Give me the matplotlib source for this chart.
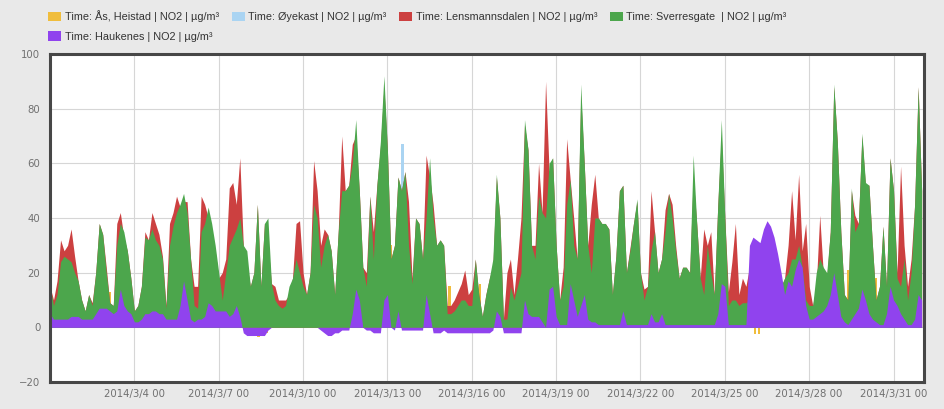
import numpy as np
import pandas as pd
import matplotlib
matplotlib.use("Agg")
import matplotlib.pyplot as plt
import matplotlib.dates as mdates
from matplotlib.patches import Patch
from matplotlib.ticker import FuncFormatter

# 3-hourly NO2 readings (ug/m3), 2014-03-01 00:00 .. 2014-04-01 00:00
times = pd.date_range("2014-03-01 00:00", "2014-04-01 00:00", freq="3h")

sverresgate = [
    15, 8, 12, 24, 26, 25, 24, 20,   # 3/1
    17, 10, 6, 12, 8, 20, 38, 34,    # 3/2
    20, 9, 8, 30, 38, 35, 28, 18,    # 3/3
    6, 8, 15, 33, 32, 36, 32, 30,    # 3/4
    25, 7, 30, 37, 42, 45, 49, 42,   # 3/5
    25, 8, 7, 35, 38, 44, 38, 30,    # 3/6
    20, 10, 20, 30, 33, 36, 40, 30,  # 3/7
    28, 15, 20, 45, 15, 38, 40, 16,  # 3/8
    10, 8, 7, 8, 15, 18, 25, 20,     # 3/9
    15, 12, 20, 45, 40, 22, 30, 34,  # 3/10
    28, 12, 35, 50, 50, 52, 60, 76,  # 3/11
    50, 22, 15, 48, 25, 52, 68, 92,  # 3/12
    65, 25, 30, 55, 50, 57, 30, 16,  # 3/13
    40, 38, 25, 40, 62, 40, 30, 32,  # 3/14
    30, 5, 5, 6, 8, 10, 10, 8,       # 3/15
    8, 25, 12, 4, 12, 18, 25, 56,    # 3/16
    40, 3, 3, 15, 10, 15, 20, 76,    # 3/17
    65, 30, 25, 48, 42, 40, 60, 62,  # 3/18
    30, 10, 15, 45, 54, 30, 25, 89,  # 3/19
    60, 30, 20, 40, 40, 38, 38, 36,  # 3/20
    12, 26, 50, 52, 20, 28, 38, 47,  # 3/21
    20, 10, 15, 28, 35, 20, 25, 35,  # 3/22
    49, 40, 28, 18, 22, 22, 20, 63,  # 3/23
    38, 18, 12, 30, 20, 12, 45, 76,  # 3/24
    40, 8, 10, 10, 8, 9, 9, 10,      # 3/25
    8, 8, 8, 8, 8, 8, 8, 8,          # 3/26
    15, 18, 20, 25, 25, 30, 22, 10,  # 3/27
    8, 8, 20, 25, 22, 20, 35, 89,    # 3/28
    68, 35, 12, 10, 51, 35, 38, 71,  # 3/29
    53, 52, 30, 10, 15, 37, 15, 62,  # 3/30
    50, 18, 15, 25, 10, 20, 45, 88,  # 3/31
    50,
]

lensmannsdalen = [
    15, 10, 17, 32, 28, 30, 36, 26,
    17, 10, 6, 12, 9, 20, 38, 34,
    22, 9, 8, 38, 42, 33, 28, 18,
    6, 8, 15, 35, 32, 42, 38, 34,
    26, 8, 38, 42, 48, 44, 46, 46,
    25, 15, 15, 48, 45, 40, 33, 28,
    18, 20, 25, 51, 53, 45, 62, 30,
    23, 15, 20, 45, 15, 38, 31, 16,
    15, 10, 10, 10, 12, 18, 38, 39,
    20, 12, 20, 61, 50, 30, 36, 34,
    28, 12, 35, 70, 50, 52, 67, 70,
    50, 22, 20, 48, 35, 52, 66, 88,
    65, 25, 30, 55, 50, 57, 46, 18,
    40, 38, 25, 63, 55, 45, 30, 32,
    30, 8, 8, 10, 13, 16, 21, 12,
    14, 25, 12, 4, 12, 18, 22, 55,
    40, 3, 20, 25, 12, 25, 40, 74,
    65, 30, 30, 60, 42, 90, 57, 62,
    30, 10, 22, 69, 54, 40, 25, 85,
    60, 30, 45, 56, 40, 38, 38, 36,
    12, 26, 50, 52, 20, 29, 38, 46,
    20, 14, 15, 50, 35, 20, 25, 43,
    49, 45, 30, 18, 22, 22, 20, 55,
    38, 18, 36, 30, 35, 12, 45, 70,
    40, 13, 24, 38, 12, 18, 15, 22,
    22, 20, 20, 20, 20, 20, 20, 20,
    15, 18, 30, 50, 32, 56, 28, 38,
    15, 8, 15, 41, 20, 18, 35, 88,
    68, 35, 12, 10, 50, 41, 38, 70,
    52, 52, 30, 10, 15, 37, 15, 62,
    50, 20, 59, 30, 15, 25, 45, 88,
    50,
]

haukenes = [
    5, 3, 3, 3, 3, 3, 4, 4,
    4, 3, 3, 3, 3, 5, 7, 7,
    7, 6, 5, 6, 14, 8, 6, 5,
    2, 2, 3, 5, 5, 6, 6, 5,
    5, 3, 3, 3, 3, 8, 17, 10,
    3, 2, 3, 3, 4, 9, 8, 6,
    6, 6, 6, 4, 5, 8, 4, -2,
    -3, -3, -3, -3, -3, -3, -1, 0,
    0, 0, 0, 0, 0, 0, 0, 0,
    0, 0, 0, 0, 0, -1, -2, -3,
    -3, -2, -2, -1, -1, -1, 5, 14,
    10, 0, -1, -1, -2, -2, -2, 10,
    12, 0, -1, 6, -1, -1, -1, -1,
    -1, -1, -1, 12, 5, -2, -2, -2,
    -1, -2, -2, -2, -2, -2, -2, -2,
    -2, -2, -2, -2, -2, -2, -1, 6,
    4, -2, -2, -2, -2, -2, -2, 10,
    5, 4, 4, 4, 2, 0, 14, 15,
    4, 1, 1, 1, 16, 10, 4, 8,
    12, 3, 2, 2, 1, 1, 1, 1,
    1, 1, 1, 6, 1, 1, 1, 1,
    1, 1, 1, 5, 2, 2, 5, 1,
    1, 1, 1, 1, 1, 1, 1, 1,
    1, 1, 1, 1, 1, 1, 5, 16,
    15, 1, 1, 1, 1, 1, 1, 30,
    33, 32, 31, 36, 39, 37, 33, 27,
    20, 12, 17, 15, 21, 25, 22, 8,
    3, 3, 4, 5, 6, 8, 12, 20,
    12, 4, 2, 1, 3, 5, 7, 14,
    10, 5, 3, 2, 1, 1, 5, 15,
    10, 8, 5, 3, 1, 1, 3, 12,
    10,
]

# Ås, Heistad and Øyekast are mostly hidden; only the readings that show are listed
heistad_times = ["2014-03-03 03:00", "2014-03-08 10:00", "2014-03-08 13:00", "2014-03-08 17:00",
                 "2014-03-13 03:00", "2014-03-15 05:00", "2014-03-16 07:00", "2014-03-24 05:00",
                 "2014-03-26 02:00", "2014-03-26 05:00", "2014-03-29 09:00", "2014-03-30 09:00"]
heistad = [13, -3.5, -3, -2, 30, 15, 16, 17, -2.5, -2.5, 21, 18]

oyekast_times = ["2014-03-13 13:00", "2014-03-15 04:00"]
oyekast = [67, -2]

labels = ["Time: Ås, Heistad | NO2 | µg/m³", "Time: Øyekast | NO2 | µg/m³",
          "Time: Lensmannsdalen | NO2 | µg/m³", "Time: Sverresgate  | NO2 | µg/m³",
          "Time: Haukenes | NO2 | µg/m³"]
colors = ["#f0bd3c", "#aad4f2", "#cc4040", "#4ca64c", "#9043ee"]

plt.rcParams["font.family"] = ["Liberation Sans", "DejaVu Sans"]

fig = plt.figure(figsize=(9.45, 4.09), dpi=100, facecolor="#e9e9e9")
ax = fig.add_axes([50 / 945, 1 - 382 / 409, 874 / 945, 328 / 409])
ax.set_facecolor("white")

bar_w = 2 / 24
ax.bar(pd.to_datetime(heistad_times), heistad, width=bar_w, color=colors[0], zorder=2)
ax.bar(pd.to_datetime(oyekast_times), oyekast, width=bar_w, color=colors[1], zorder=2)
ax.fill_between(times, 0, lensmannsdalen, color=colors[2], linewidth=0, zorder=3)
ax.fill_between(times, 0, sverresgate, color=colors[3], linewidth=0, zorder=4)
ax.fill_between(times, 0, haukenes, color=colors[4], linewidth=0, zorder=5)

ax.set_ylim(-20, 100)
ax.set_yticks([-20, 0, 20, 40, 60, 80, 100])
ax.set_yticklabels(["−20", "0", "20", "40", "60", "80", "100"])
ax.set_xlim(pd.Timestamp("2014-03-01 00:00"), pd.Timestamp("2014-04-01 02:00"))
ax.set_xticks(pd.date_range("2014-03-04", "2014-03-31", freq="3D"))
ax.xaxis.set_major_formatter(FuncFormatter(
    lambda v, pos: (lambda d: f"{d.year}/{d.month}/{d.day} {d:%H}")(mdates.num2date(v))))

ax.tick_params(length=0, labelsize=7.3, labelcolor="#707070")
for lab in ax.get_xticklabels() + ax.get_yticklabels():
    lab.set_family("DejaVu Sans")
ax.tick_params(axis="y", pad=7)
ax.tick_params(axis="x", pad=5)
ax.grid(color="#d6d6d6", linewidth=0.8, zorder=0)
ax.set_axisbelow(True)
for s in ax.spines.values():
    s.set_color("#474747")
    s.set_linewidth(2.2)
    s.set_zorder(10)

handles = [Patch(facecolor=c, edgecolor="none") for c in colors]
order = [0, 4, 1, 2, 3]  # legend fills columns first
fig.legend([handles[i] for i in order], [labels[i] for i in order], ncol=4,
           loc="upper left", bbox_to_anchor=(43 / 945, 1 - 5 / 409), frameon=False,
           fontsize=7.8, handlelength=1.2, handleheight=1.0, handletextpad=0.3,
           columnspacing=1.2, labelspacing=0.85, borderpad=0, labelcolor="#333333")

fig.savefig("out.png", dpi=100, facecolor=fig.get_facecolor())
